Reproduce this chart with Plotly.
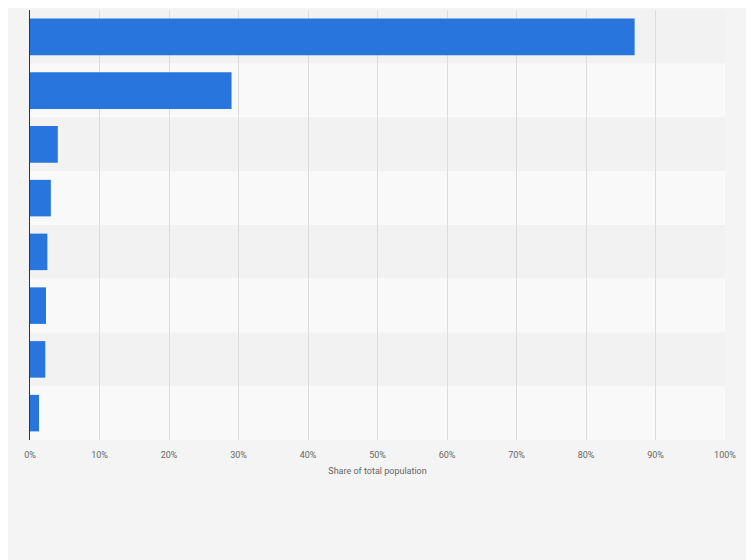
import plotly.graph_objects as go

categories = ["Category 1", "Category 2", "Category 3", "Category 4",
              "Category 5", "Category 6", "Category 7", "Category 8"]
values = [87, 29, 4, 3, 2.5, 2.3, 2.2, 1.3]
tick_vals = [0, 10, 20, 30, 40, 50, 60, 70, 80, 90, 100]
tick_text = [f"{v}%" for v in tick_vals]

fig = go.Figure(go.Bar(
    x=values, y=categories, orientation="h",
    marker=dict(color="#2876dd", line=dict(width=0)), width=0.68,
))

shapes = []
for i in range(len(categories)):
    shapes.append(dict(type="rect", xref="paper", yref="y", layer="below",
                       x0=0, x1=1, y0=i - 0.5, y1=i + 0.5, line=dict(width=0),
                       fillcolor="#f2f2f2" if i % 2 == 0 else "#f9f9f9"))

fig.update_layout(
    width=754, height=560,
    margin=dict(l=22, r=37, t=2, b=128),
    paper_bgcolor="#f4f4f4", plot_bgcolor="#f9f9f9",
    shapes=shapes, showlegend=False,
    font=dict(family="Roboto, Arial, sans-serif", color="#666666"),
    xaxis=dict(range=[0, 100], tickvals=tick_vals, ticktext=tick_text,
               tickfont=dict(size=9), showgrid=True, gridcolor="#dcdcdc",
               zeroline=False, fixedrange=True, ticks="", ticklabelstandoff=8,
               title=dict(text="Share of total population", font=dict(size=9, color="#666666"),
                          standoff=8)),
    yaxis=dict(autorange="reversed", showticklabels=False, showgrid=False,
               showline=True, linecolor="#333333", linewidth=1, zeroline=False,
               range=[7.5, -0.5]),
)
fig.write_html("out.html")
